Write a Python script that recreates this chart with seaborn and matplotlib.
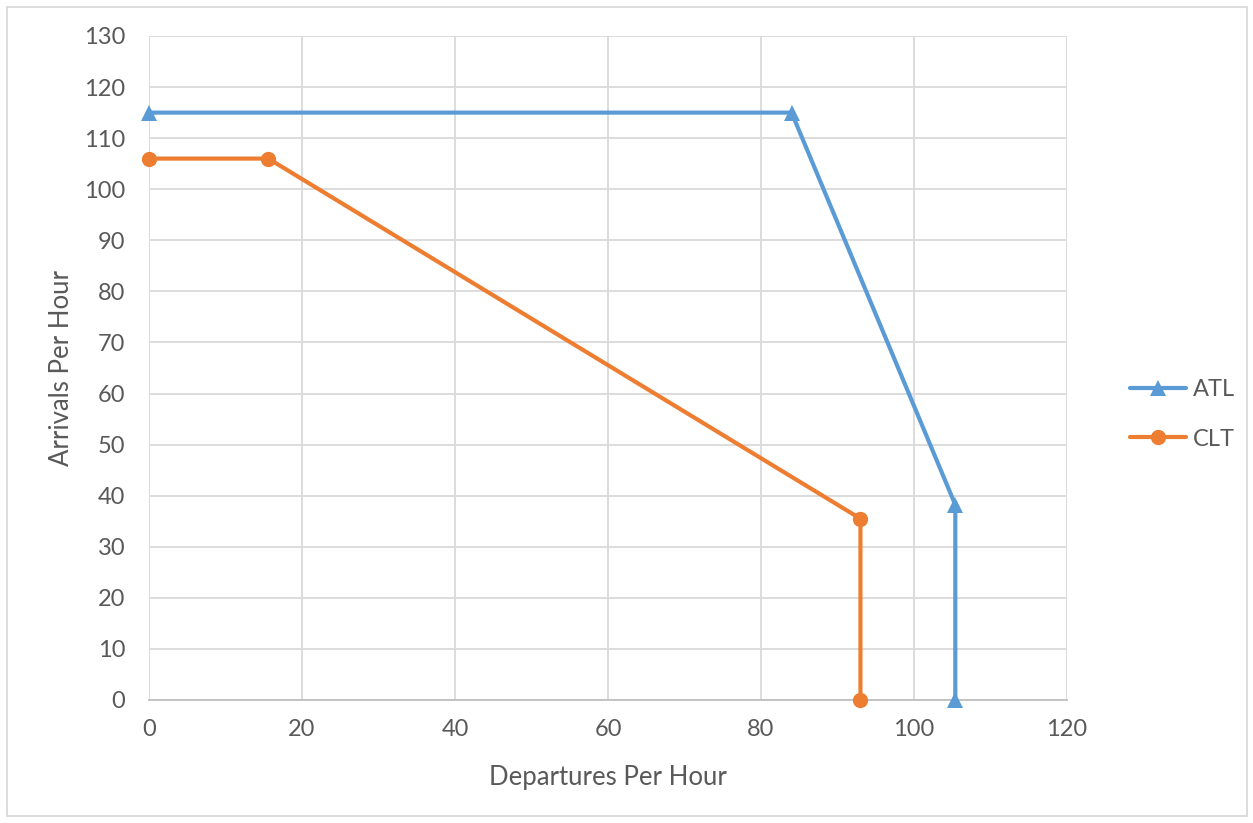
import matplotlib
matplotlib.use("Agg")
import matplotlib.pyplot as plt
import seaborn as sns
import pandas as pd
from matplotlib.patches import Rectangle

atl_x = [0, 84, 105.4, 105.4]
atl_y = [115, 115, 38.2, 0]
clt_x = [0, 15.6, 93.0, 93.0]
clt_y = [106, 106, 35.5, 0]
x_ticks = [0, 20, 40, 60, 80, 100, 120]
y_ticks = list(range(0, 131, 10))

sns.set_theme(style="white")
plt.rcParams['font.family'] = ['Lato', 'DejaVu Sans']
text_color = "#595959"
grid_color = "#D9D9D9"

fig = plt.figure(figsize=(12.53, 8.23), dpi=100)
ax = fig.add_axes([149/1253, 1-700/823, (1067-149)/1253, (700-36)/823])

df_atl = pd.DataFrame({"x": atl_x, "y": atl_y})
df_clt = pd.DataFrame({"x": clt_x, "y": clt_y})
sns.lineplot(data=df_atl, x="x", y="y", sort=False, estimator=None, ax=ax, color="#5B9BD5",
             linewidth=3, marker="^", markersize=11, markeredgewidth=0, label="ATL", clip_on=False, zorder=3)
sns.lineplot(data=df_clt, x="x", y="y", sort=False, estimator=None, ax=ax, color="#ED7D31",
             linewidth=3, marker="o", markersize=11, markeredgewidth=0, label="CLT", clip_on=False, zorder=3)

ax.set_xlim(0, 120)
ax.set_ylim(0, 130)
ax.set_xticks(x_ticks)
ax.set_yticks(y_ticks)
ax.grid(True, color=grid_color, linewidth=1.3)
for s in ["top", "right", "left"]:
    ax.spines[s].set_visible(False)
ax.spines["bottom"].set_color("#BFBFBF")
ax.spines["bottom"].set_linewidth(1.3)
ax.tick_params(axis="both", colors=text_color, labelsize=17, length=0)
ax.tick_params(axis="x", pad=14)
ax.tick_params(axis="y", pad=17)
ax.set_xlabel("Departures Per Hour", color=text_color, fontsize=18.5, labelpad=18)
ax.set_ylabel("Arrivals Per Hour", color=text_color, fontsize=18.5, labelpad=7)

leg = ax.legend(loc="center left", bbox_to_anchor=(1.045, 0.43), frameon=False,
                fontsize=17, labelcolor=text_color, handlelength=2.4, handletextpad=0.3,
                labelspacing=1.2)

fig.patches.append(Rectangle((7/1253, 1-816/823), 1240/1253, 809/823, transform=fig.transFigure,
                             fill=False, edgecolor="#D9D9D9", linewidth=1.3))

fig.savefig("out.png", dpi=100)
